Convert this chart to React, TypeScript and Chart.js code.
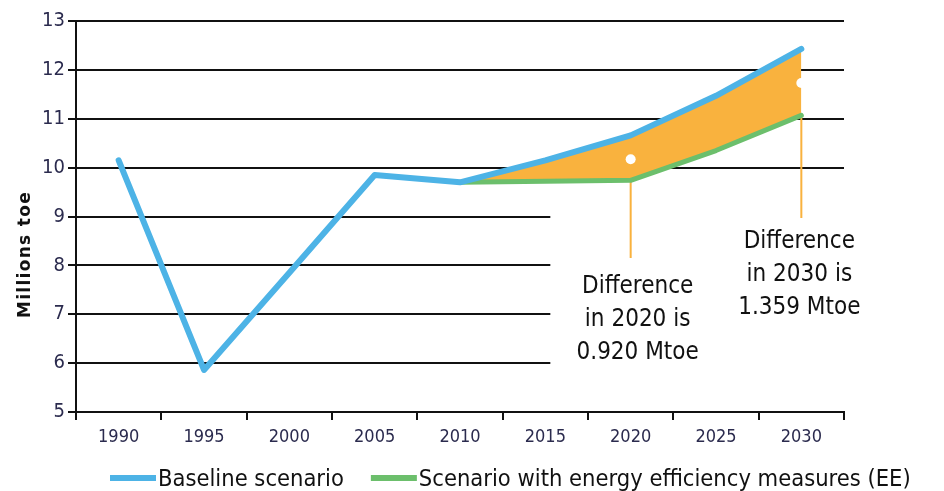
import React, { useEffect, useRef } from "react";
import { Chart, registerables } from "chart.js";

Chart.register(...registerables);

// ---- data ----
const years = ["1990", "1995", "2000", "2005", "2010", "2015", "2020", "2025", "2030"];
const baseline = [10.15, 5.86, 7.85, 9.85, 9.7, 10.15, 10.66, 11.47, 12.43];
const eeScenario: (number | null)[] = [null, null, null, null, 9.7, 9.72, 9.74, 10.35, 11.07];
const markerValues: (number | null)[] = [null, null, null, null, null, null, 10.17, null, 11.73];
const legendLabels = ["Baseline scenario", "Scenario with energy efficiency measures (EE)"];
const yTitle = "Millions toe";
const yMin = 5;
const yMax = 13;
const calloutYears = ["2020", "2030"];
const calloutFrom = [9.74, 11.07];
const calloutTo = [8.15, 8.97];
const calloutTextTop = [7.56, 8.48];
const calloutTexts = [
  ["Difference", "in 2020 is", "0.920 Mtoe"],
  ["Difference", "in 2030 is", "1.359 Mtoe"],
];

// ---- styles ----
const BLUE = "#4db3e6";
const GREEN = "#6cbf6c";
const ORANGE = "#f9b23e";
const GRID = "#111111";
const TICK = "#2b2b4e";
const cond = "'DejaVu Sans Condensed', 'DejaVu Sans', sans-serif";

const gapUpper = baseline.map((v, i) => (eeScenario[i] == null ? null : v));

const overlayPlugin = {
  id: "overlay",
  beforeDatasetsDraw(chart: any) {
    const { ctx, scales, chartArea } = chart;
    const x = scales.x;
    const y = scales.y;
    const left = x.getPixelForValue(years.indexOf("2015")) + 5;
    const top = y.getPixelForValue(9.6);
    const bottom = y.getPixelForValue(5.4);
    ctx.save();
    ctx.fillStyle = "#ffffff";
    ctx.fillRect(left, top, chartArea.right + 4 - left, bottom - top);
    ctx.restore();
  },
  afterDatasetsDraw(chart: any) {
    const { ctx, scales } = chart;
    const x = scales.x;
    const y = scales.y;
    ctx.save();
    // callout texts
    ctx.fillStyle = "#111111";
    ctx.font = `24px ${cond}`;
    ctx.textAlign = "center";
    ctx.textBaseline = "middle";
    calloutYears.forEach((yr, k) => {
      const cx = x.getPixelForValue(years.indexOf(yr)) + (k === 0 ? 7 : -2);
      const cy = y.getPixelForValue(calloutTextTop[k]);
      calloutTexts[k].forEach((line, j) => ctx.fillText(line, cx, cy + j * 33));
    });
    // y title
    ctx.save();
    ctx.translate(26, (y.top + y.bottom) / 2 + 38);
    ctx.rotate(-Math.PI / 2);
    ctx.font = `bold 17px 'DejaVu Sans', sans-serif`;
    (ctx as any).letterSpacing = "1.3px";
    ctx.fillStyle = "#111111";
    ctx.textAlign = "center";
    ctx.fillText(yTitle, 0, 0);
    ctx.restore();
    // legend
    ctx.font = `23.5px ${cond}`;
    ctx.textAlign = "left";
    ctx.textBaseline = "middle";
    let lx = 110;
    const ly = 478;
    legendLabels.forEach((lab, i) => {
      const ds = chart.data.datasets[i];
      ctx.fillStyle = ds.borderColor;
      ctx.fillRect(lx, ly - 3, 46, 6);
      lx += 48;
      ctx.fillStyle = "#111111";
      ctx.fillText(lab, lx, ly + 2);
      lx += ctx.measureText(lab).width + 27;
    });
    ctx.restore();
  },
};

export default function App() {
  const ref = useRef<HTMLCanvasElement>(null);
  useEffect(() => {
    document.body.style.margin = "0";
    const calloutSets = calloutYears.map((yr, k) => ({
      type: "line" as const,
      data: [
        { x: yr, y: calloutFrom[k] },
        { x: yr, y: calloutTo[k] },
      ],
      borderColor: ORANGE,
      borderWidth: 2,
      pointRadius: 0,
      fill: false,
      order: 5,
    }));
    const chart = new Chart(ref.current!, {
      type: "line",
      data: {
        labels: years,
        datasets: [
          {
            label: legendLabels[0],
            data: baseline,
            borderColor: BLUE,
            backgroundColor: BLUE,
            borderWidth: 6,
            borderCapStyle: "round",
            borderJoinStyle: "round",
            pointRadius: 0,
            tension: 0,
            fill: false,
            order: 0,
          },
          {
            label: legendLabels[1],
            data: eeScenario,
            borderColor: GREEN,
            backgroundColor: GREEN,
            borderWidth: 5,
            borderCapStyle: "round",
            borderJoinStyle: "round",
            pointRadius: 0,
            tension: 0,
            fill: false,
            order: 1,
          },
          {
            label: "gap",
            data: gapUpper,
            borderColor: "rgba(0,0,0,0)",
            backgroundColor: ORANGE,
            borderWidth: 0,
            pointRadius: 0,
            tension: 0,
            fill: 1,
            order: 3,
          },
          {
            label: "markers",
            data: markerValues,
            showLine: false,
            pointRadius: 5,
            pointBackgroundColor: "#ffffff",
            pointBorderWidth: 0,
            borderColor: "#ffffff",
            order: 2,
          },
          ...calloutSets,
        ] as any,
      },
      options: {
        animation: false,
        responsive: false,
        layout: { padding: { top: 21, right: 100, left: 0, bottom: 0 } },
        plugins: { legend: { display: false }, tooltip: { enabled: false } },
        scales: {
          x: {
            type: "category",
            offset: true,
            grid: { offset: true, drawOnChartArea: false, tickLength: 8, color: GRID, lineWidth: 2 },
            border: { color: GRID, width: 2 },
            ticks: { color: TICK, font: { family: cond, size: 18 }, padding: 7, maxRotation: 0 },
            afterFit: (s: any) => {
              s.height = 79;
            },
          },
          y: {
            min: yMin,
            max: yMax,
            grid: { color: GRID, lineWidth: 2, tickLength: 8 },
            border: { color: GRID, width: 2 },
            ticks: { stepSize: 1, color: TICK, font: { family: cond, size: 20 }, padding: 3 },
            afterFit: (s: any) => {
              s.width = 76;
            },
          },
        },
      },
      plugins: [overlayPlugin],
    });
    return () => chart.destroy();
  }, []);
  return (
    <div style={{ width: 944, height: 491 }}>
      <canvas ref={ref} width={944} height={491} />
    </div>
  );
}
